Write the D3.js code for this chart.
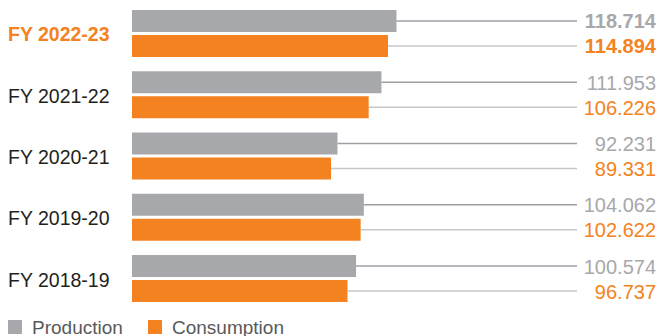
<!DOCTYPE html>
<html>
<head>
<meta charset="utf-8">
<script src="https://cdn.jsdelivr.net/npm/d3@7"></script>
<style>
  body { margin: 0; background: #fff; }
  svg { display: block; font-family: "Liberation Sans", Arial, sans-serif; }
</style>
</head>
<body>
<svg id="chart" width="660" height="336"></svg>
<script>
// data, top to bottom
const years = ["FY 2022-23", "FY 2021-22", "FY 2020-21", "FY 2019-20", "FY 2018-19"];
const production = [118.714, 111.953, 92.231, 104.062, 100.574];
const consumption = [114.894, 106.226, 89.331, 102.622, 96.737];
const seriesNames = ["Production", "Consumption"];

const grey = "#a7a8ab", orange = "#f58220";

const svg = d3.select("#chart");

// scales
const x = d3.scaleLinear().domain([0, 120]).range([132, 132 + 120 * 2.228]);
const y = d3.scaleBand().domain(years).range([10, 302]).paddingInner(0.233).paddingOuter(0);
const ySub = d3.scaleBand().domain(seriesNames).range([0, y.bandwidth()]).paddingInner(0.12);

const rows = years.map((yr, i) => ({year: yr, i: i, vals: [
  {name: "Production", v: production[i], color: grey, line: "#9ca1a6"},
  {name: "Consumption", v: consumption[i], color: orange, line: "#c4c8cc"}
]}));

const g = svg.selectAll("g.row").data(rows).join("g")
  .attr("class", "row")
  .attr("transform", d => `translate(0,${y(d.year)})`);

// leader lines first, so bars sit on top
g.selectAll("line.lead").data(d => d.vals).join("line")
  .attr("class", "lead")
  .attr("x1", d => x(d.v)).attr("x2", 577)
  .attr("y1", d => ySub(d.name) + ySub.bandwidth() / 2)
  .attr("y2", d => ySub(d.name) + ySub.bandwidth() / 2)
  .attr("stroke", d => d.line).attr("stroke-width", 1.5);

g.selectAll("rect").data(d => d.vals).join("rect")
  .attr("x", x(0))
  .attr("y", d => ySub(d.name))
  .attr("width", d => x(d.v) - x(0))
  .attr("height", ySub.bandwidth())
  .attr("fill", d => d.color);

// value labels
g.each(function(row) {
  d3.select(this).selectAll("text.val").data(row.vals).join("text")
    .attr("class", "val")
    .attr("x", 656)
    .attr("y", d => ySub(d.name) + ySub.bandwidth() / 2 + 7.5)
    .attr("text-anchor", "end")
    .attr("font-size", 20)
    .attr("font-weight", row.i === 0 ? "bold" : "normal")
    .attr("fill", d => d.color)
    .text(d => d3.format(".3f")(d.v));
});

// category labels
g.append("text")
  .attr("x", 8)
  .attr("y", y.bandwidth() / 2 + 8)
  .attr("font-size", 19.5)
  .attr("font-weight", d => d.i === 0 ? "bold" : "normal")
  .attr("fill", d => d.i === 0 ? orange : "#231f20")
  .text(d => d.year);

// legend
const legend = svg.append("g").attr("transform", "translate(8,320)");
const legX = [0, 140];
seriesNames.forEach((name, i) => {
  legend.append("rect").attr("x", legX[i]).attr("y", 0).attr("width", 14).attr("height", 14)
    .attr("fill", i === 0 ? grey : orange);
  legend.append("text").attr("x", legX[i] + 24).attr("y", 13.5)
    .attr("font-size", 19).attr("fill", "#58595b").text(name);
});
</script>
</body>
</html>
